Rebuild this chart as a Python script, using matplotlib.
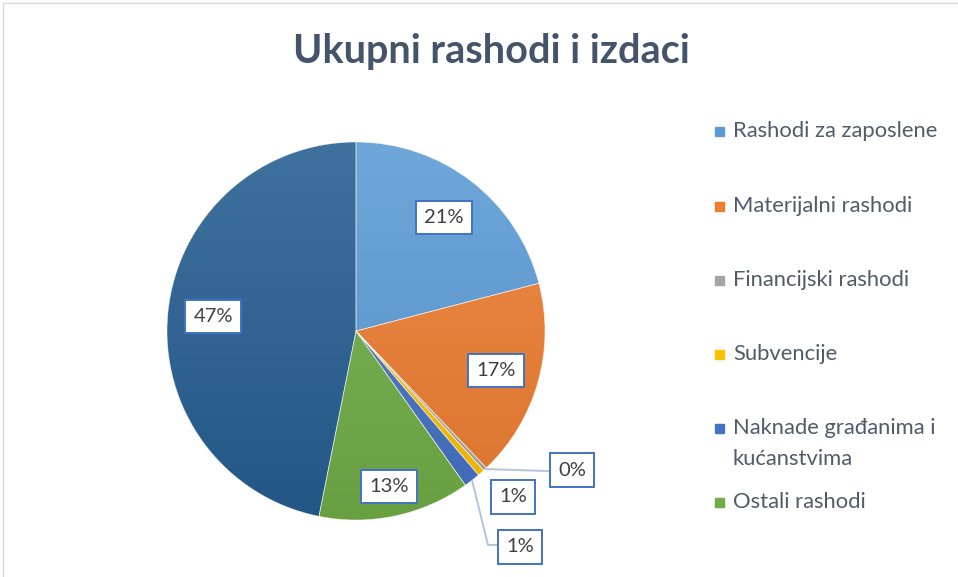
import numpy as np
import matplotlib.pyplot as plt
from matplotlib.patches import Rectangle
from matplotlib.colors import to_rgb

plt.rcParams['font.family'] = ['Lato', 'DejaVu Sans']

# data
categories = ['Rashodi za zaposlene', 'Materijalni rashodi', 'Financijski rashodi',
              'Subvencije', 'Naknade građanima i\nkućanstvima', 'Ostali rashodi',
              'Ostalo']
shares = [21.0, 17.0, 0.3, 0.6, 1.4, 13.0, 47.0]
colors = ['#5B9BD5', '#ED7D31', '#A5A5A5', '#FFC000', '#4472C4', '#70AD47', '#255E91']
title = 'Ukupni rashodi i izdaci'

W, H = 958, 577
fig = plt.figure(figsize=(W / 100, H / 100), dpi=100)
ax = fig.add_axes([0, 0, 1, 1])

cx, cy, r = 356, 246, 189
wedges, _ = ax.pie(shares, colors=colors, startangle=90, counterclock=False,
                   radius=r, center=(cx, cy),
                   wedgeprops=dict(linewidth=0))

# soft vertical gradient on every slice, like the office chart
t = np.linspace(0, 1, 256)[:, None]
for w, c in zip(wedges, colors):
    c = np.array(to_rgb(c))
    top = c + (1 - c) * 0.12
    bot = c * 0.92
    grad = (top[None, None, :] * (1 - t[..., None]) + bot[None, None, :] * t[..., None])
    grad = np.repeat(grad, 2, axis=1)
    im = ax.imshow(grad, extent=(cx - r, cx + r, cy - r, cy + r), origin='upper',
                   aspect='auto', zorder=1.5)
    im.set_clip_path(w)
    w.set_edgecolor((1, 1, 1, 0.6))
    w.set_linewidth(0.5)
    w.set_facecolor('none')
    w.set_zorder(1.6)
ax.set_xlim(0, W)
ax.set_ylim(0, H)
ax.set_aspect('equal')
ax.axis('off')

total = sum(shares)
pct = [f'{round(v / total * 100):.0f}%' for v in shares]

box = dict(boxstyle='square,pad=0.4', fc='white', ec='#4472C4', lw=1.4)
txt = dict(fontsize=14.5, color='#404040', ha='center', va='center', bbox=box,
           zorder=3)

# labels inside the bigger slices
dist = {0: 0.76, 1: 0.77, 5: 0.84, 6: 0.76}
for i, d in dist.items():
    w = wedges[i]
    a = np.deg2rad((w.theta1 + w.theta2) / 2)
    ax.text(cx + d * r * np.cos(a), cy + d * r * np.sin(a), pct[i], **txt)

# small slices get labels outside, with leader lines
def edge(i):
    w = wedges[i]
    a = np.deg2rad((w.theta1 + w.theta2) / 2)
    return cx + r * np.cos(a), cy + r * np.sin(a)

ex, ey = edge(2)
ax.plot([ex, 548], [ey, ey - 2], color='#b4c4d8', lw=1.4, zorder=1)
ax.text(572, H - 470, pct[2], **txt)

ax.text(513, H - 497, pct[3], **txt)

ex, ey = edge(4)
ax.plot([ex, 488, 498], [ey, H - 545, H - 545], color='#b4c4d8', lw=1.4, zorder=1)
ax.text(520, H - 547, pct[4], **txt)

# title
ax.text(491, H - 52, title, fontsize=28.5, fontweight='bold', color='#44546A',
        ha='center', va='center')

# legend (first six entries only, as in the source)
leg_y = [131, 206, 280, 354, 428, 502]
for i, y in enumerate(leg_y):
    ax.add_patch(Rectangle((715, H - y - 4.5), 9, 9, color=colors[i]))
    for k, line in enumerate(categories[i].split('\n')):
        ax.text(733, H - y - 31 * k, line, fontsize=15.8, color='#525b69',
                ha='left', va='center')

# chart border
fig.patches.append(Rectangle((0.003, -0.01), 1.2, 1.004, transform=fig.transFigure,
                             fill=False, ec='#d9d9d9', lw=1))

fig.savefig('out.png', dpi=100)
